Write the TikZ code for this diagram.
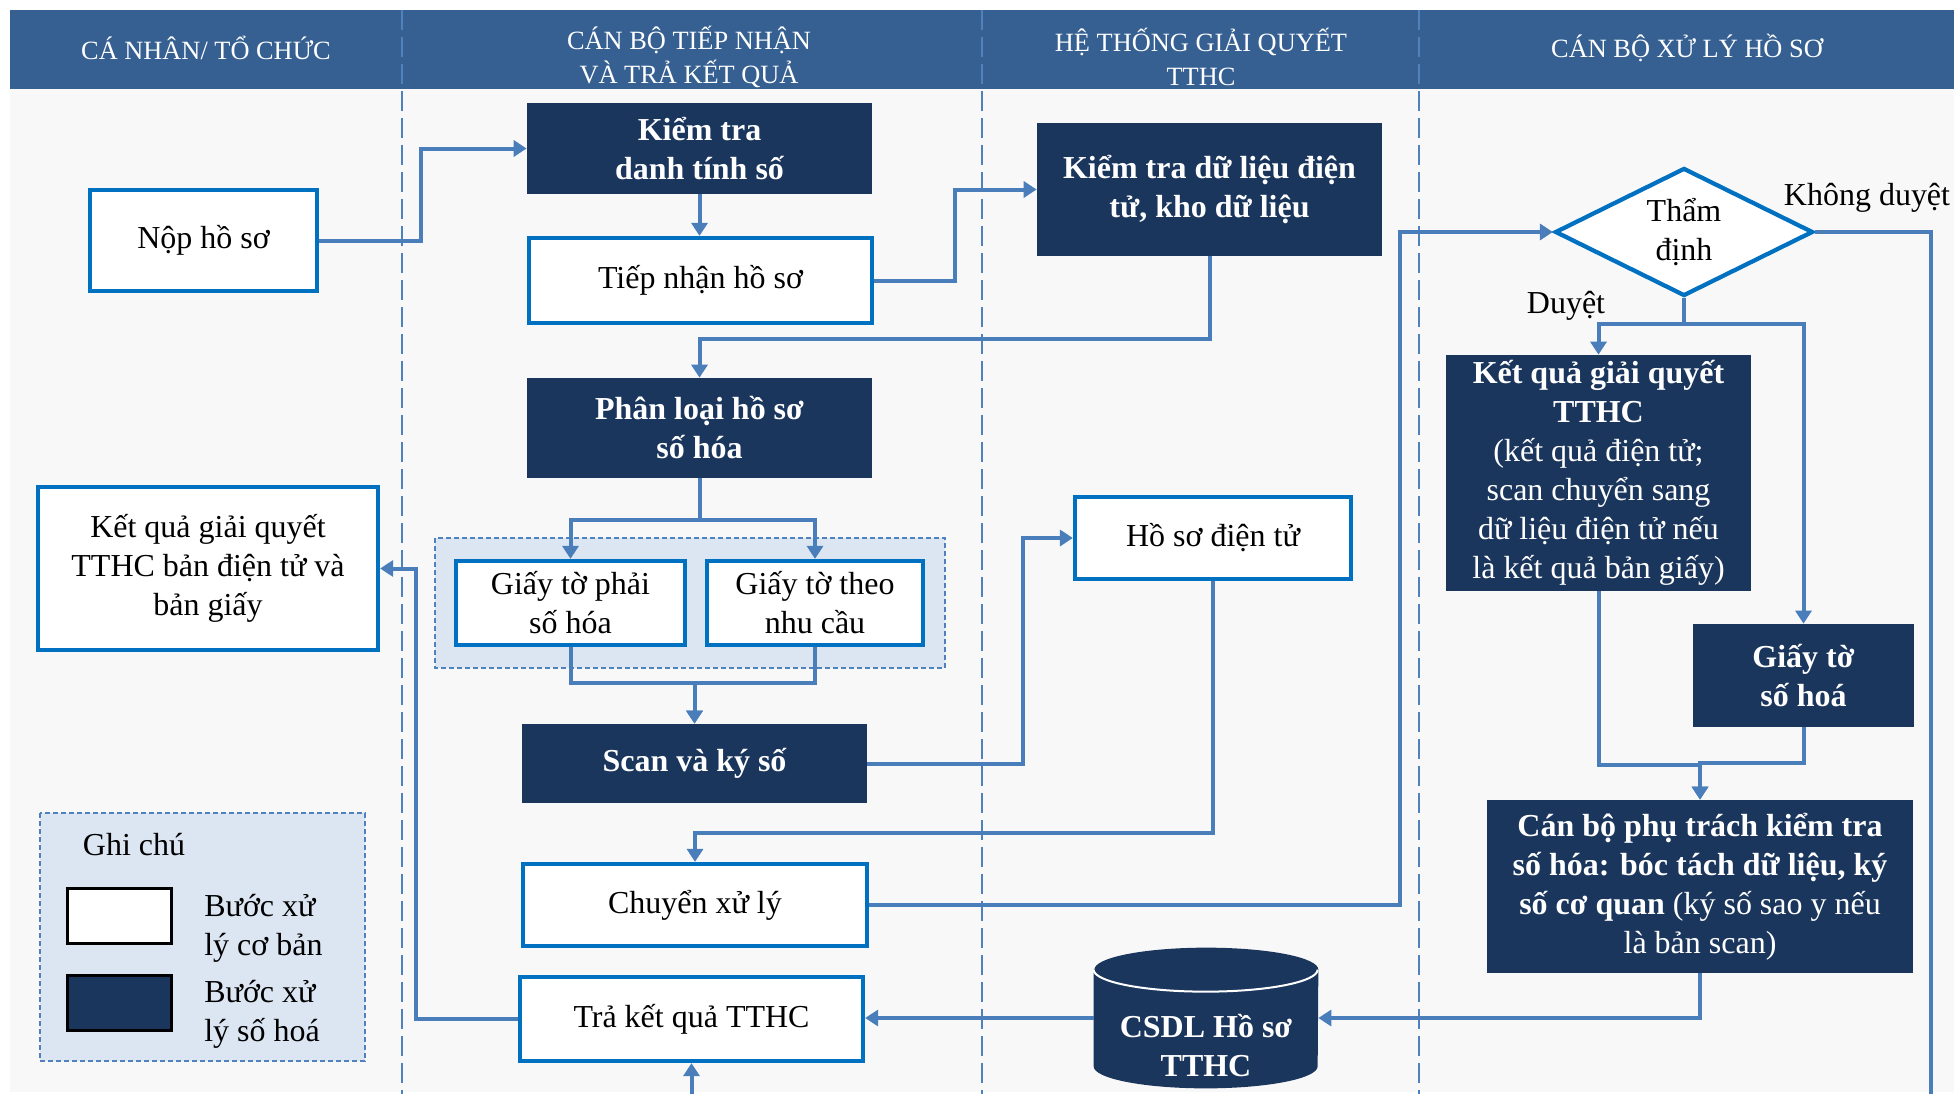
\documentclass[tikz,border=0pt]{standalone}
\usepackage{fontspec}
\setmainfont{Liberation Serif}
\usepackage{tikz}
\usetikzlibrary{arrows.meta,shapes.geometric,calc}
\definecolor{hdrblue}{RGB}{54,96,146}
\definecolor{navy}{RGB}{27,54,93}
\definecolor{edgeblue}{RGB}{0,112,192}
\definecolor{flowblue}{RGB}{74,126,187}
\definecolor{laneblue}{RGB}{79,129,189}
\definecolor{bggray}{RGB}{248,248,248}
\definecolor{paleblue}{RGB}{220,230,242}
\newcommand{\boxfont}{\fontsize{18.2}{22.2}\selectfont}
\newcommand{\hdrfont}{\fontsize{15}{19.3}\selectfont}

\begin{document}
\begin{tikzpicture}[x=0.2mm,y=-0.2mm,
  whitebox/.style={draw=edgeblue,line width=0.85mm,fill=white,align=center,font=\boxfont,inner sep=0pt},
  darkbox/.style={fill=navy,text=white,align=center,font=\boxfont\bfseries,inner sep=0pt},
  hdr/.style={text=white,align=center,font=\hdrfont},
  flowline/.style={draw=flowblue,line width=0.8mm},
  flow/.style={flowline,-{Triangle[length=2.6mm,width=3.2mm]}},
  lane/.style={laneblue,line width=0.3mm,dash pattern=on 4mm off 1.4mm},
  dashbox/.style={fill=paleblue,draw=laneblue,line width=0.25mm,dash pattern=on 1mm off 0.6mm}]
  \useasboundingbox (0,0) rectangle (1954,1094);
  \fill[bggray] (10,89) rectangle (1954,1092);
  \fill[hdrblue] (10,10) rectangle (1954,89);
  \foreach \lx in {402,982,1419}
    \draw[lane] (\lx,10) -- (\lx,1094);
  \node[hdr] (h1) at (206,48) {CÁ NHÂN/ TỔ CHỨC};
  \node[hdr] (h2) at (689,57) {CÁN BỘ TIẾP NHẬN\\VÀ TRẢ KẾT QUẢ};
  \node[hdr] (h3) at (1201,57) {HỆ THỐNG GIẢI QUYẾT\\TTHC};
  \node[hdr] (h4) at (1687,48) {CÁN BỘ XỬ LÝ HỒ SƠ};

  \draw[dashbox] (435,538) rectangle (945,668);
  \draw[dashbox] (40,813) rectangle (365,1061);

  \node[whitebox,minimum width=45.4mm,minimum height=20.2mm] (nop) at (203.5,240.5) {Nộp hồ sơ};
  \node[whitebox,minimum width=68mm,minimum height=32.6mm] (kqcn) at (208,568.5) {Kết quả giải quyết\\TTHC bản điện tử và\\bản giấy};
  \node[darkbox,minimum width=69mm,minimum height=18.2mm] (ktdt) at (699.5,148.5) {Kiểm tra\\danh tính số};
  \node[whitebox,minimum width=68.6mm,minimum height=17mm] (tiepnhan) at (700.5,280.5) {Tiếp nhận hồ sơ};
  \node[darkbox,minimum width=69mm,minimum height=26.6mm] (ktdl) at (1209.5,189.5) {Kiểm tra dữ liệu điện\\tử, kho dữ liệu};
  \node[darkbox,minimum width=69mm,minimum height=20mm] (phanloai) at (699.5,428) {Phân loại hồ sơ\\số hóa};
  \node[whitebox,minimum width=45.8mm,minimum height=16.8mm] (gtphai) at (570.5,603) {Giấy tờ phải\\số hóa};
  \node[whitebox,minimum width=43.2mm,minimum height=16.8mm] (gtnhucau) at (815,603) {Giấy tờ theo\\nhu cầu};
  \node[darkbox,minimum width=69mm,minimum height=15.8mm] (scan) at (694.5,763.5) {Scan và ký số};
  \node[whitebox,minimum width=55.2mm,minimum height=16.4mm] (hsdt) at (1213,538) {Hồ sơ điện tử};
  \node[whitebox,minimum width=68.8mm,minimum height=16.4mm] (chuyen) at (695,905) {Chuyển xử lý};
  \node[whitebox,minimum width=68.6mm,minimum height=16.8mm] (tra) at (691.5,1019) {Trả kết quả TTHC};
  \node[inner sep=0pt,minimum width=44.8mm,minimum height=28mm] (csdl) at (1206,1018) {};
  \fill[navy] ($(csdl.north west)+(0,22)$) -- ($(csdl.south west)+(0,-22)$) arc (180:360:22.4mm and 4.4mm)
    -- ($(csdl.north east)+(0,22)$) arc (0:180:22.4mm and 4.4mm) -- cycle;
  \draw[white,line width=0.4mm] ($(csdl.north west)+(0,22)$) arc (180:360:22.4mm and 4.4mm);
  \node[text=white,align=center,font=\boxfont\bfseries] (csdltext) at (1206,1046) {CSDL Hồ sơ\\TTHC};
  \node[diamond,aspect=2,draw=edgeblue,line width=0.85mm,fill=white,align=center,font=\boxfont,inner sep=0pt,
    minimum width=51.6mm,minimum height=25.6mm] (thamdinh) at (1684,232) {Thẩm\\định};
  \node[darkbox,minimum width=61mm,minimum height=47.2mm,font=\boxfont] (kqxl) at (1598.5,473)
    {\textbf{Kết quả giải quyết}\\\textbf{TTHC}\\(kết quả điện tử;\\scan chuyển sang\\dữ liệu điện tử nếu\\là kết quả bản giấy)};
  \node[darkbox,minimum width=44.2mm,minimum height=20.6mm] (gtsh) at (1803.5,675.5) {Giấy tờ\\số hoá};
  \node[darkbox,minimum width=85.2mm,minimum height=34.6mm,font=\boxfont] (canbo) at (1700,886.5)
    {\textbf{Cán bộ phụ trách kiểm tra}\\\textbf{số hóa: bóc tách dữ liệu, ký}\\\textbf{số cơ quan} (ký số sao y nếu\\là bản scan)};
  \node[font=\boxfont] (khong) at (1867,198) {Không duyệt};
  \node[font=\boxfont] (duyet) at (1566,306) {Duyệt};

  \node[font=\boxfont] (ghichu) at (134,845) {Ghi chú};
  \node[draw=black,line width=0.6mm,fill=white,minimum width=20.8mm,minimum height=11mm] (lgwhite) at (119.5,916) {};
  \node[draw=black,line width=0.6mm,fill=navy,minimum width=20.8mm,minimum height=11mm] (lgdark) at (119.5,1002.5) {};
  \node[font=\boxfont,align=left,anchor=west,inner sep=0pt] (lgwhitetext) at (204,928) {Bước xử\\lý cơ bản};
  \node[font=\boxfont,align=left,anchor=west,inner sep=0pt] (lgdarktext) at (204,1014) {Bước xử\\lý số hoá};

  \coordinate (khongend) at (1931,1094);
  \coordinate (train) at (691.5,1094);

  \draw[flow] (nop.east) -- ++(102,0) |- (ktdt.west);
  \draw[flow] (ktdt.south) -- (ktdt.south |- tiepnhan.north);
  \draw[flow] (tiepnhan.east) -- ++(81,0) |- (ktdl.west);
  \draw[flow] (ktdl.south) -- ++(0,83) -| (phanloai.north);
  \draw[flow] (phanloai.south) -- ++(0,42) -| (gtphai.north);
  \draw[flow] (phanloai.south) -- ++(0,42) -| (gtnhucau.north);
  \draw[flow] (gtphai.south) -- ++(0,36) -| (scan.north);
  \draw[flow] (gtnhucau.south) -- ++(0,36) -| (scan.north);
  \draw[flow] (scan.east) -- ++(156,0) |- (hsdt.west);
  \draw[flow] (hsdt.south) -- ++(0,252) -| (chuyen.north);
  \draw[flow] (chuyen.east) -- ++(531,0) |- (thamdinh.west);
  \draw[flow] (thamdinh.south) -- ++(0,26) -| (kqxl.north);
  \draw[flow] (thamdinh.south) -- ++(0,26) -| (gtsh.north);
  \draw[flow] (kqxl.south) -- ++(0,174) -| (canbo.north);
  \draw[flow] (gtsh.south) -- ++(0,36) -| (canbo.north);
  \draw[flow] (canbo.south) |- (csdl.east);
  \draw[flow] (csdl.west) -- (csdl.west -| tra.east);
  \draw[flow] (tra.west) -- ++(-102,0) |- (kqcn.east);
  \draw[flowline] (thamdinh.east) -| (khongend);
  \draw[flow] (train) -- (tra.south);
\end{tikzpicture}
\end{document}
